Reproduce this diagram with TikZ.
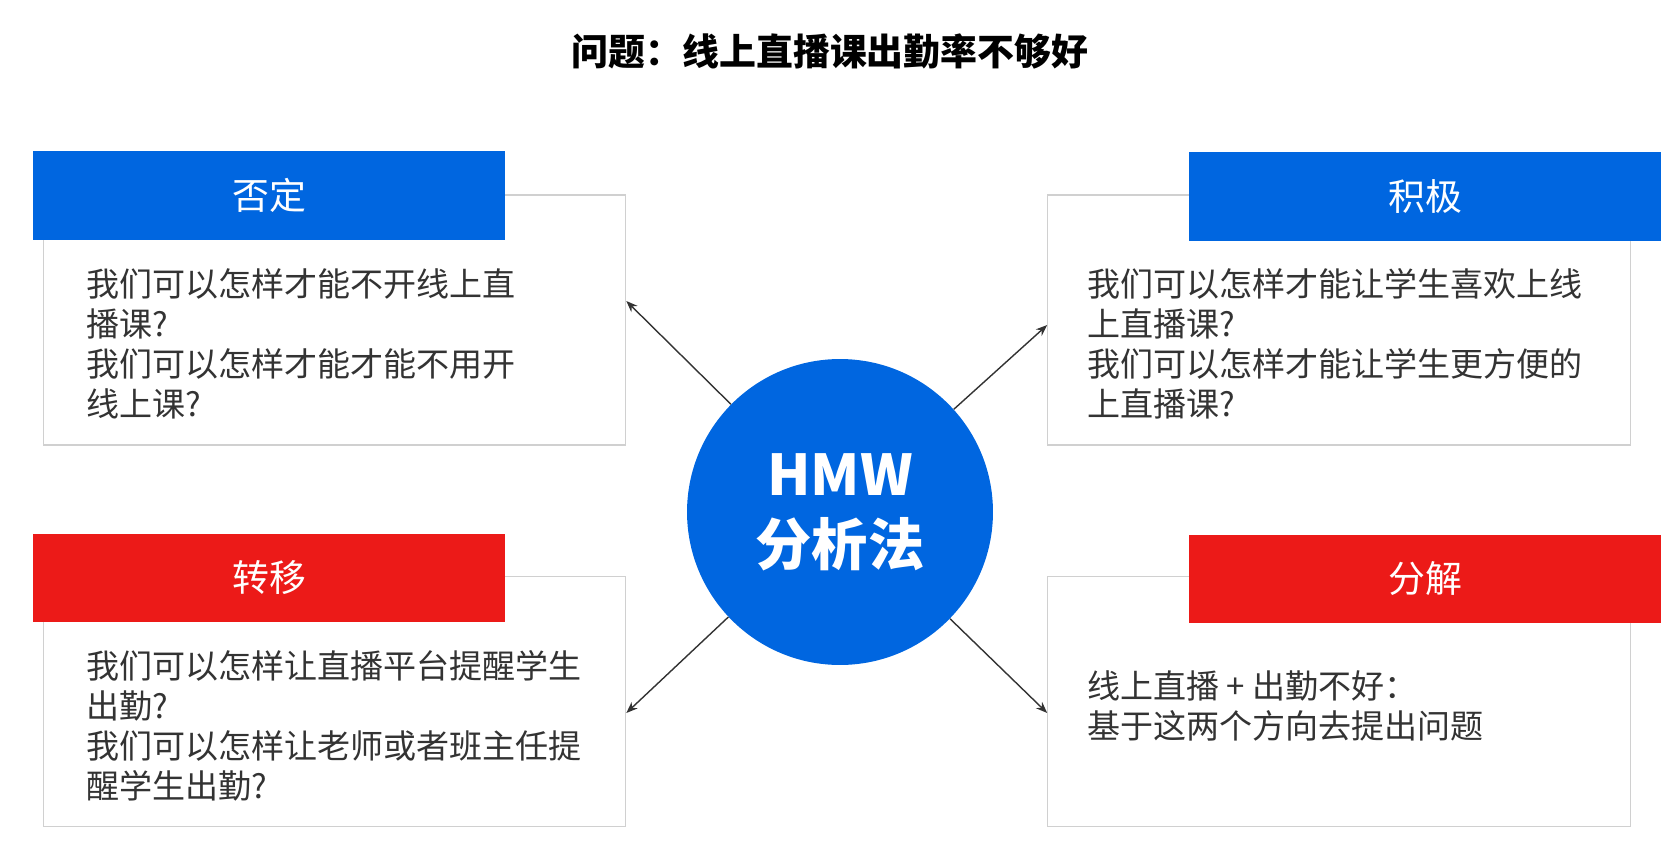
\documentclass[tikz,border=0pt]{standalone}
\usepackage{fontspec}
\setmainfont{Noto Sans CJK SC}
\usetikzlibrary{arrows.meta}

\definecolor{hmwblue}{RGB}{0,102,224}
\definecolor{hmwred}{RGB}{236,26,24}
\definecolor{boxgray}{RGB}{208,208,208}
\definecolor{bodygray}{RGB}{51,51,51}

\begin{document}
\begin{tikzpicture}[x=0.02cm, y=-0.02cm, >={Stealth[length=6.5pt,width=5pt]},
  answerbox/.style={draw=boxgray, line width=0.7pt, fill=white, minimum width=11.65cm, minimum height=5cm, inner sep=0pt},
  headbox/.style={minimum width=9.44cm, minimum height=1.78cm, inner sep=0pt, text=white, font=\fontsize{21}{25}\selectfont},
  bodytext/.style={anchor=north west, inner sep=0pt, align=left, text=bodygray, font=\fontsize{18.8}{22.8}\selectfont},
  arrowline/.style={->, line width=0.8pt, draw=black!80}]
  \useasboundingbox (0,0) rectangle (1670,858);

  \node[font=\bfseries\fontsize{21}{25}\selectfont] (title) at (830,52) {问题：线上直播课出勤率不够好};

  % four answer boxes
  \node[answerbox] (negbox) at (334.5,320) {};
  \node[answerbox] (posbox) at (1339,320) {};
  \node[answerbox] (shiftbox) at (334.5,701.5) {};
  \node[answerbox] (splitbox) at (1339,701.5) {};

  \node[headbox, fill=hmwblue] (neghead) at (269,195.5) {否定};
  \node[headbox, fill=hmwblue] (poshead) at (1425,196.5) {积极};
  \node[headbox, fill=hmwred] (shifthead) at (269,578) {转移};
  \node[headbox, fill=hmwred] (splithead) at (1425,579) {分解};

  \node[bodytext] (negtext) at (86,268) {我们可以怎样才能不开线上直\\播课?\\我们可以怎样才能才能不用开\\线上课?};
  \node[bodytext] (postext) at (1087,268) {我们可以怎样才能让学生喜欢上线\\上直播课?\\我们可以怎样才能让学生更方便的\\上直播课?};
  \node[bodytext] (shifttext) at (86,650) {我们可以怎样让直播平台提醒学生\\出勤?\\我们可以怎样让老师或者班主任提\\醒学生出勤?};
  \node[bodytext] (splittext) at (1087,670) {线上直播 + 出勤不好：\\基于这两个方向去提出问题};

  % centre circle
  \node[circle, fill=hmwblue, minimum size=6.12cm, inner sep=0pt, text=white, align=center,
        font=\bfseries\fontsize{32}{40}\selectfont] (hmw) at (840,512) {HMW\\分析法};

  \draw[arrowline] (hmw) -- ([yshift=0.38cm]negbox.east);
  \draw[arrowline] (hmw) -- ([yshift=-0.1cm]posbox.west);
  \draw[arrowline] (hmw) -- ([yshift=-0.23cm]shiftbox.east);
  \draw[arrowline] (hmw) -- ([yshift=-0.23cm]splitbox.west);
\end{tikzpicture}
\end{document}
